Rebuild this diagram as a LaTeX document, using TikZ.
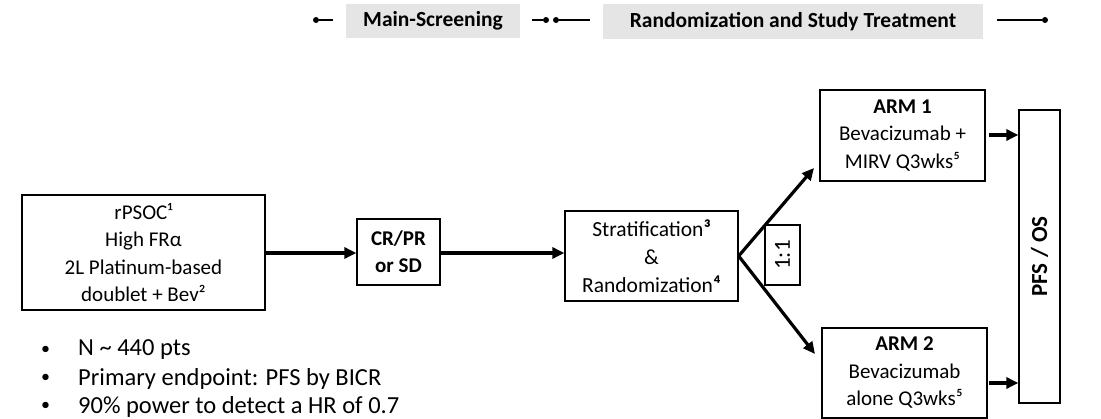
\documentclass[tikz,border=0pt]{standalone}
\usepackage{fontspec}
\setmainfont{Carlito}
\usetikzlibrary{arrows.meta}
\begin{document}
\begin{tikzpicture}[x=1pt,y=-1pt,
  box/.style={draw, line width=1.3pt, rectangle, align=center, inner sep=0pt, font=\fontsize{21}{27.5}\selectfont},
  hdr/.style={fill=black!10, inner sep=0pt, font=\bfseries\fontsize{21.5}{24}\selectfont},
  arr/.style={line width=3.2pt, -{Triangle[length=12pt,width=11pt]}},
  tl/.style={line width=1.8pt},
  dotn/.style={circle, fill=black, inner sep=0pt, minimum size=6pt},
  bul/.style={anchor=west, inner sep=0pt, font=\fontsize{24.5}{28}\selectfont}]
\useasboundingbox (0,0) rectangle (1101,419);
% header
\node[hdr, minimum width=174pt, minimum height=34pt] (h1) at (433,21) {Main-Screening};
\node[hdr, minimum width=380pt, minimum height=35pt] (h2) at (793,22) {Randomization and Study Treatment};
\node[dotn] (d1) at (316,20) {};
\node[dotn] (d2) at (546,20) {};
\node[dotn] (d3) at (556,20) {};
\node[dotn] (d4) at (1045,20) {};
\coordinate (l1) at (333,20);
\coordinate (l2) at (532,20);
\coordinate (l3) at (590,20);
\coordinate (l4) at (997,20);
\draw[tl] (d1) -- (l1);
\draw[tl] (l2) -- (d2);
\draw[tl] (d3) -- (l3);
\draw[tl] (l4) -- (d4);
% boxes
\node[box, minimum width=243pt, minimum height=115pt] (A) at (143.5,252.5)
  {rPSOC¹\\High FRα\\2L Platinum-based\\doublet + Bev²};
\node[box, minimum width=83pt, minimum height=66pt, font=\bfseries\fontsize{21}{27}\selectfont] (B) at (398.5,252) {CR/PR\\or SD};
\node[box, minimum width=173pt, minimum height=90pt, font=\fontsize{21.5}{28}\selectfont] (C) at (651.5,256)
  {Stratification{\bfseries ³}\\\&\\Randomization{\bfseries ⁴}};
\node[box, minimum width=165pt, minimum height=91pt] (R1) at (902.5,135.5)
  {\textbf{ARM 1}\\Bevacizumab +\\MIRV Q3wks⁵};
\node[box, minimum width=165pt, minimum height=90pt] (R2) at (904.5,373)
  {\textbf{ARM 2}\\Bevacizumab\\alone Q3wks⁵};
\node[box, minimum width=41pt, minimum height=293pt] (P) at (1039.5,256.5)
  {\rotatebox{90}{\bfseries\fontsize{23}{26}\selectfont PFS / OS}};
\node[box, minimum width=35pt, minimum height=60pt] (Q) at (782.5,255)
  {\rotatebox{90}{\fontsize{23}{26}\selectfont 1:1}};
% arrows
\coordinate (m) at (0,253);
\draw[arr] (A.east |- m) -- (B.west |- m);
\draw[arr] (B.east |- m) -- (C.west |- m);
\coordinate (t1) at (814,168);
\coordinate (t2) at (815,354);
\draw[arr] (C.east) -- (t1);
\draw[arr] (C.east) -- (t2);
\coordinate (s1) at (989,135);
\coordinate (s2) at (989,383);
\draw[arr] (s1) -- (P.west |- s1);
\draw[arr] (s2) -- (P.west |- s2);
% bullets
\node[bul] (b1) at (78,350) {N \textasciitilde{} 440 pts};
\node[bul] (b2) at (78,378.5) {Primary endpoint: PFS by BICR};
\node[bul] (b3) at (78,406.5) {90\% power to detect a HR of 0.7};
\node[bul, font=\fontsize{18}{20}\selectfont] at (41,350) {•};
\node[bul, font=\fontsize{18}{20}\selectfont] at (41,378.5) {•};
\node[bul, font=\fontsize{18}{20}\selectfont] at (41,406.5) {•};
\end{tikzpicture}
\end{document}
